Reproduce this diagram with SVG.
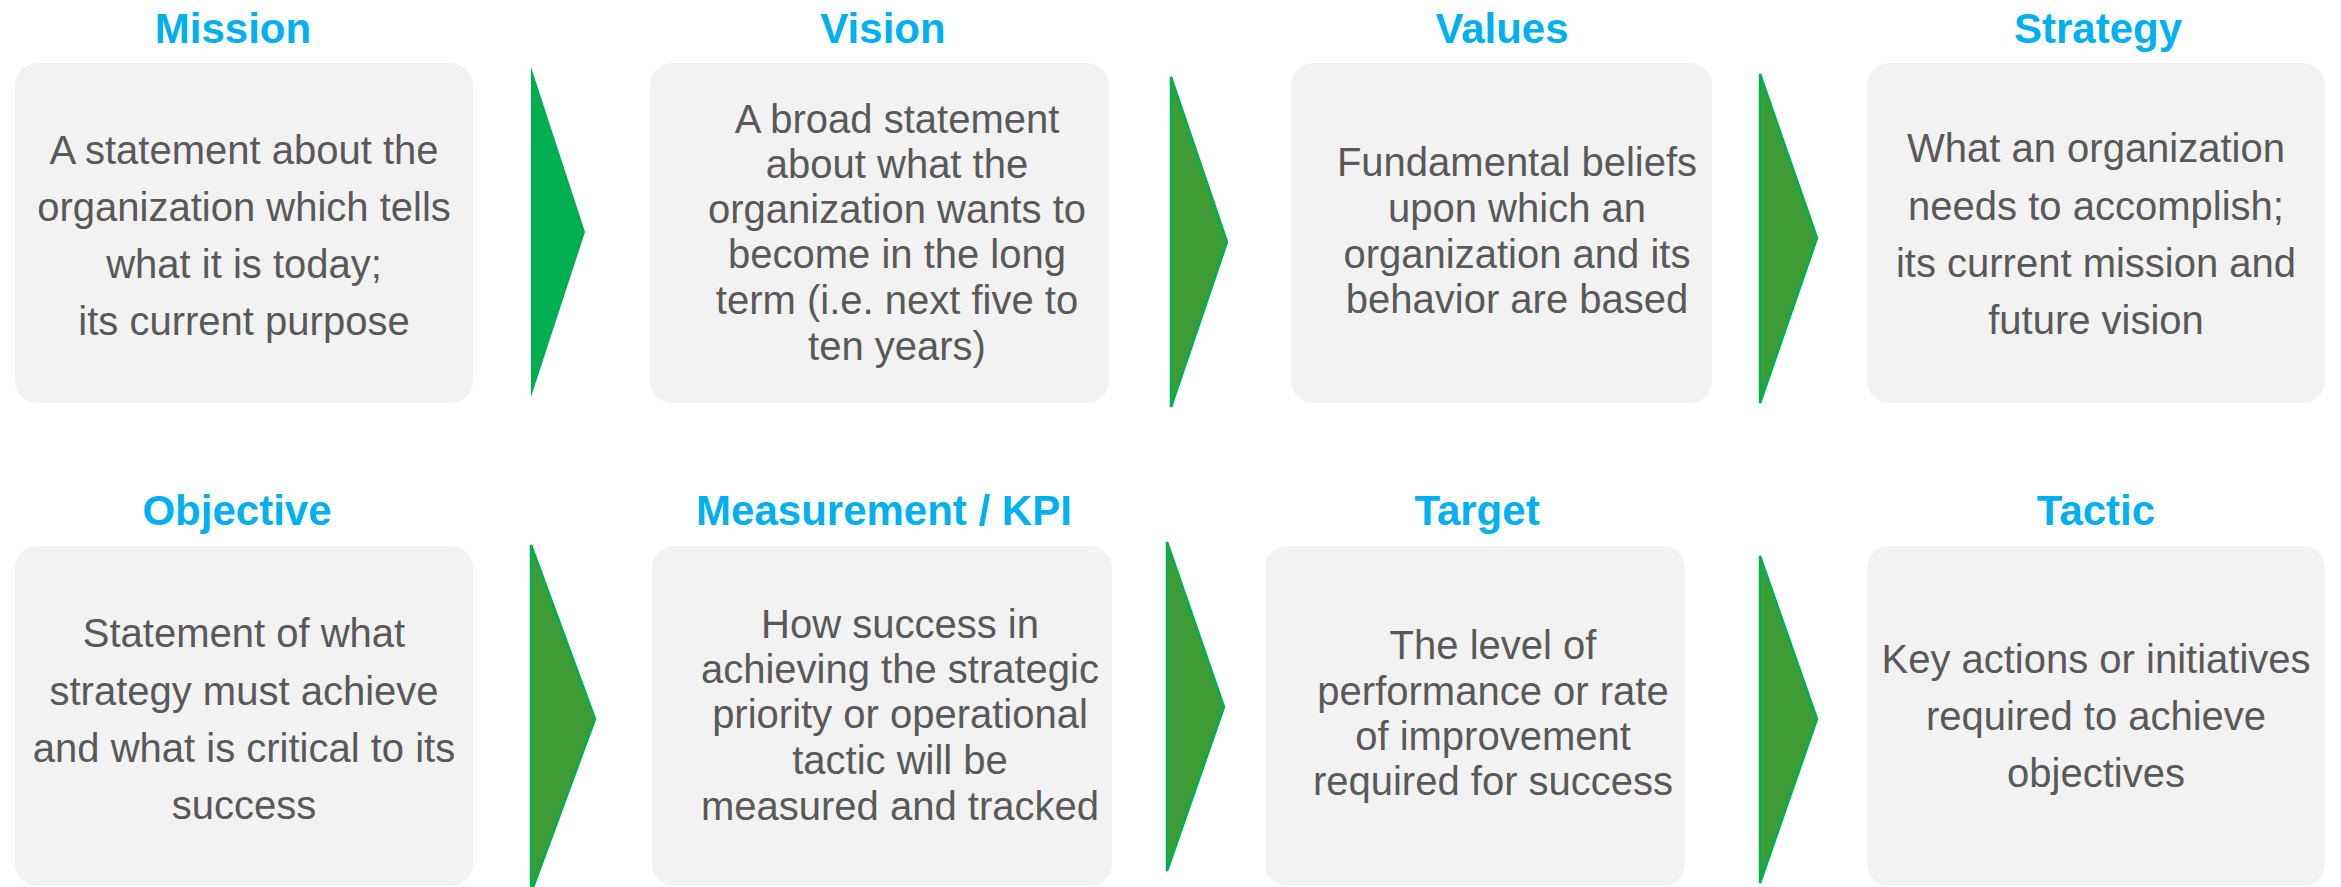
<svg xmlns="http://www.w3.org/2000/svg" width="2341" height="887" viewBox="0 0 2341 887">
<style>
.box{fill:#F2F2F2}
.title{font-family:"Liberation Sans",Arial,sans-serif;font-weight:bold;font-size:42px;fill:#00B0F0;text-anchor:middle}
.body{font-family:"Liberation Sans",Arial,sans-serif;font-size:40px;fill:#595959;text-anchor:middle}
.arr{fill:#3D9C35;stroke:#00B050;stroke-width:2.5}
.arr1{fill:#00B050}
</style>
<rect width="2341" height="887" fill="#FFFFFF"/>
<g id="connectors">
<polygon class="arr1" points="531,67 531,397 585,232"/>
<polygon class="arr" points="1171,77 1171,407 1227,242"/>
<polygon class="arr" points="1760,74 1760,403 1817,238"/>
<polygon class="arr" points="531,545 531,893 595,719"/>
<polygon class="arr" points="1167,542 1167,871 1224,707"/>
<polygon class="arr" points="1760,556 1760,883 1817,719"/>
</g>
<g id="mission">
<text class="title" x="233" y="43">Mission</text>
<rect class="box" x="15" y="63" width="458" height="340" rx="22"/>
<text class="body" x="244" y="164">A statement about the</text>
<text class="body" x="244" y="221">organization which tells</text>
<text class="body" x="244" y="278">what it is today;</text>
<text class="body" x="244" y="335">its current purpose</text>
</g>
<g id="vision">
<text class="title" x="883" y="43">Vision</text>
<rect class="box" x="650" y="63" width="459" height="340" rx="22"/>
<text class="body" x="897" y="133">A broad statement</text>
<text class="body" x="897" y="178">about what the</text>
<text class="body" x="897" y="223">organization wants to</text>
<text class="body" x="897" y="268">become in the long</text>
<text class="body" x="897" y="314">term (i.e. next five to</text>
<text class="body" x="897" y="360">ten years)</text>
</g>
<g id="values">
<text class="title" x="1502" y="43">Values</text>
<rect class="box" x="1291" y="63" width="421" height="340" rx="22"/>
<text class="body" x="1517" y="176">Fundamental beliefs</text>
<text class="body" x="1517" y="222">upon which an</text>
<text class="body" x="1517" y="268">organization and its</text>
<text class="body" x="1517" y="313">behavior are based</text>
</g>
<g id="strategy">
<text class="title" x="2098" y="43">Strategy</text>
<rect class="box" x="1867" y="63" width="458" height="340" rx="22"/>
<text class="body" x="2096" y="162">What an organization</text>
<text class="body" x="2096" y="220">needs to accomplish;</text>
<text class="body" x="2096" y="277">its current mission and</text>
<text class="body" x="2096" y="334">future vision</text>
</g>
<g id="objective">
<text class="title" x="237" y="525">Objective</text>
<rect class="box" x="15" y="546" width="458" height="340" rx="22"/>
<text class="body" x="244" y="647">Statement of what</text>
<text class="body" x="244" y="705">strategy must achieve</text>
<text class="body" x="244" y="762">and what is critical to its</text>
<text class="body" x="244" y="819">success</text>
</g>
<g id="measurement">
<text class="title" x="884" y="525">Measurement / KPI</text>
<rect class="box" x="652" y="546" width="460" height="340" rx="22"/>
<text class="body" x="900" y="638">How success in</text>
<text class="body" x="900" y="683">achieving the strategic</text>
<text class="body" x="900" y="728">priority or operational</text>
<text class="body" x="900" y="774">tactic will be</text>
<text class="body" x="900" y="820">measured and tracked</text>
</g>
<g id="target">
<text class="title" x="1477" y="525">Target</text>
<rect class="box" x="1265" y="546" width="420" height="340" rx="22"/>
<text class="body" x="1493" y="659">The level of</text>
<text class="body" x="1493" y="705">performance or rate</text>
<text class="body" x="1493" y="750">of improvement</text>
<text class="body" x="1493" y="795">required for success</text>
</g>
<g id="tactic">
<text class="title" x="2096" y="525">Tactic</text>
<rect class="box" x="1867" y="546" width="458" height="340" rx="22"/>
<text class="body" x="2096" y="673">Key actions or initiatives</text>
<text class="body" x="2096" y="730">required to achieve</text>
<text class="body" x="2096" y="787">objectives</text>
</g>
</svg>
